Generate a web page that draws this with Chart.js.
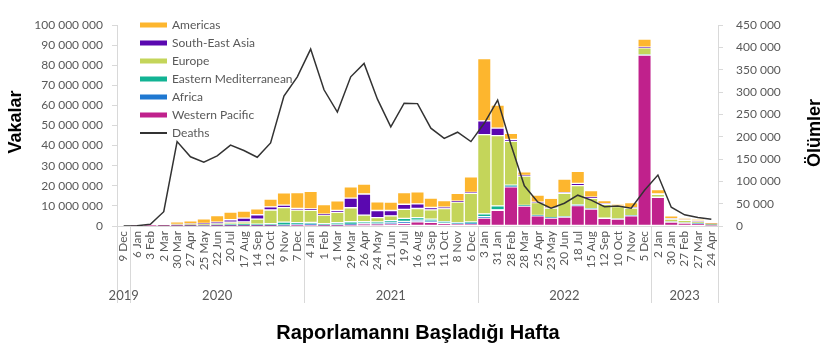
<!DOCTYPE html>
<html>
<head>
<meta charset="utf-8">
<script src="https://cdn.jsdelivr.net/npm/chart.js@4.4.1/dist/chart.umd.min.js"></script>
<style>
  body { margin: 0; background: #fff; }
</style>
</head>
<body>
<canvas id="chart" width="831" height="354"></canvas>
<script>
// 4-week reporting periods
const labels = ['9 Dec',
  '6 Jan','3 Feb','2 Mar','30 Mar','27 Apr','25 May','22 Jun','20 Jul','17 Aug','14 Sep','12 Oct','9 Nov','7 Dec',
  '4 Jan','1 Feb','1 Mar','29 Mar','26 Apr','24 May','21 Jun','19 Jul','16 Aug','13 Sep','11 Oct','8 Nov','6 Dec',
  '3 Jan','31 Jan','28 Feb','28 Mar','25 Apr','23 May','20 Jun','18 Jul','15 Aug','12 Sep','10 Oct','7 Nov','5 Dec',
  '2 Jan','30 Jan','27 Feb','27 Mar','24 Apr'];
const yearLabels = ['2019', '2020', '2021', '2022', '2023'];
const yearStarts = [0, 1, 14, 27, 40];

// cases, millions
const westernPacific = [0, 0.01, 0.07, 0.05, 0.05, 0.05, 0.04, 0.05, 0.1, 0.2, 0.15, 0.2, 0.25, 0.4,
  0.5, 0.3, 0.35, 0.6, 0.9, 0.8, 1.0, 1.3, 2.1, 1.8, 1.3, 1.0, 1.0,
  4.0, 7.8, 19.5, 9.9, 5.0, 4.0, 4.4, 10.2, 8.45, 3.8, 3.4, 5.0, 85,
  14.3, 1.9, 1.4, 1.1, 0.5];
const africa = [0, 0, 0, 0.01, 0.02, 0.03, 0.06, 0.2, 0.4, 0.25, 0.15, 0.15, 0.2, 0.3,
  0.4, 0.2, 0.15, 0.2, 0.2, 0.3, 0.9, 1.0, 0.8, 0.6, 0.3, 0.2, 0.6,
  0.6, 0.3, 0.2, 0.1, 0.2, 0.1, 0.1, 0.1, 0.05, 0.05, 0.05, 0.05, 0.05,
  0.05, 0.05, 0.05, 0.05, 0.02];
const easternMed = [0, 0, 0, 0.05, 0.1, 0.2, 0.3, 0.4, 0.5, 0.5, 0.6, 0.8, 1.5, 1.0,
  0.9, 0.7, 1.1, 1.3, 1.0, 0.9, 0.8, 1.5, 1.3, 1.0, 0.6, 0.4, 0.4,
  1.4, 1.9, 0.6, 0.3, 0.1, 0.1, 0.1, 0.2, 0.1, 0.05, 0.05, 0.05, 0.05,
  0.05, 0.05, 0.05, 0.05, 0.02];
const europe = [0, 0, 0, 0.15, 0.6, 0.6, 0.5, 0.5, 0.9, 1.1, 2.5, 6.8, 7.2, 6.2,
  6.0, 4.2, 5.2, 7.0, 3.3, 2.2, 2.3, 4.5, 4.5, 4.6, 6.5, 10.3, 14.2,
  39.5, 35, 21.8, 14.5, 6.3, 4.7, 11.6, 9.6, 5.2, 6.9, 6.2, 3.8, 3.6,
  1.3, 1.4, 1.3, 1.0, 0.3];
const southEastAsia = [0, 0, 0, 0.01, 0.05, 0.15, 0.4, 0.8, 1.2, 1.9, 2.2, 1.6, 1.2, 0.9,
  0.7, 0.5, 0.9, 4.8, 10.5, 3.5, 2.7, 2.5, 2.3, 1.2, 0.7, 0.5, 0.5,
  6.8, 3.7, 1.0, 0.4, 0.3, 0.2, 0.4, 1.1, 0.6, 0.3, 0.2, 0.2, 0.3,
  0.2, 0.2, 0.2, 0.3, 0.2];
const americas = [0, 0, 0, 0.05, 1.2, 1.5, 2.3, 3.2, 3.8, 3.5, 2.9, 3.8, 6.2, 7.8,
  8.8, 4.7, 4.8, 5.6, 4.9, 4.3, 4.2, 5.8, 6.0, 4.7, 3.3, 3.9, 7.8,
  31, 11.5, 3.0, 1.8, 3.5, 4.7, 6.8, 6.0, 3.2, 1.5, 1.0, 2.5, 4.0,
  2.2, 1.4, 1.0, 1.0, 0.3];

// deaths
const deaths = [0, 500, 4000, 32000, 189000, 155000, 143000, 157000, 181000, 169000, 154000, 186000, 291000, 334000,
  396000, 305000, 255000, 334000, 364000, 284000, 222000, 275000, 274000, 219000, 196000, 210000, 189000,
  230000, 282000, 182000, 90000, 54000, 40000, 51000, 69000, 58000, 43000, 45000, 40000, 80000,
  114000, 42000, 25000, 19000, 15000];

const gray = '#595959';
const axisLine = '#d9d9d9';

function spaced(v) {
  return Math.round(v).toString().replace(/\B(?=(\d{3})+(?!\d))/g, ' ');
}

function barSet(label, data, color) {
  return {
    type: 'bar', label: label, data: data, backgroundColor: color,
    borderColor: '#ffffff', borderWidth: 1, borderSkipped: false,
    barPercentage: 1, categoryPercentage: 1, yAxisID: 'y', order: 1
  };
}

const extras = {
  id: 'extras',
  afterDraw(chart) {
    const { ctx, chartArea, scales } = chart;
    const x = scales.x;
    ctx.save();

    // year separators + year labels
    const edges = [chartArea.left];
    for (let k = 1; k < yearStarts.length; k++) {
      const i = yearStarts[k];
      edges.push((x.getPixelForValue(i - 1) + x.getPixelForValue(i)) / 2);
    }
    edges.push(chartArea.right);
    ctx.strokeStyle = axisLine;
    ctx.lineWidth = 1;
    edges.forEach(px => {
      const p = Math.round(px) + 0.5;
      ctx.beginPath();
      ctx.moveTo(p, chartArea.bottom);
      ctx.lineTo(p, 303);
      ctx.stroke();
    });
    ctx.fillStyle = gray;
    ctx.font = '13px Lato';
    ctx.textAlign = 'center';
    ctx.textBaseline = 'middle';
    yearLabels.forEach((y, k) => ctx.fillText(y, (edges[k] + edges[k + 1]) / 2, 296));

    // axis titles
    ctx.fillStyle = '#000';
    ctx.font = 'bold 18px "Liberation Sans"';
    ctx.save();
    ctx.translate(16, 122);
    ctx.rotate(-Math.PI / 2);
    ctx.fillText('Vakalar', 0, 0);
    ctx.restore();
    ctx.save();
    ctx.translate(815, 133);
    ctx.rotate(-Math.PI / 2);
    ctx.fillText('Ölümler', 0, 0);
    ctx.restore();
    ctx.font = 'bold 20px "Liberation Sans"';
    ctx.fillText('Raporlamannı Başladığı Hafta', 418, 333);

    // legend
    const items = chart.data.datasets.slice().reverse();
    items.sort((a, b) => (a.type === 'line') - (b.type === 'line'));
    ctx.font = '12px Lato';
    ctx.textAlign = 'left';
    items.forEach((ds, k) => {
      const cy = 25 + k * 18;
      if (ds.type === 'line') {
        ctx.strokeStyle = ds.borderColor;
        ctx.lineWidth = 2;
        ctx.beginPath();
        ctx.moveTo(140, cy);
        ctx.lineTo(167, cy);
        ctx.stroke();
      } else {
        ctx.fillStyle = ds.backgroundColor;
        ctx.fillRect(140, cy - 2.5, 27, 5);
      }
      ctx.fillStyle = gray;
      ctx.fillText(ds.label, 172, cy + 0.5);
    });
    ctx.restore();
  }
};

new Chart(document.getElementById('chart'), {
  data: {
    labels: labels,
    datasets: [
      {
        type: 'line', label: 'Deaths', data: deaths, yAxisID: 'y1',
        borderColor: '#333333', borderWidth: 1.5, pointRadius: 0, tension: 0, order: 0
      },
      barSet('Western Pacific', westernPacific, '#c0218c'),
      barSet('Africa', africa, '#1f78d1'),
      barSet('Eastern Mediterranean', easternMed, '#12b394'),
      barSet('Europe', europe, '#c4d55a'),
      barSet('South-East Asia', southEastAsia, '#5a08b0'),
      barSet('Americas', americas, '#fdb62e')
    ]
  },
  options: {
    responsive: false,
    animation: false,
    devicePixelRatio: 1,
    layout: { padding: { top: 25, bottom: 0, left: 0, right: 0 } },
    plugins: { legend: { display: false }, tooltip: { enabled: false } },
    scales: {
      x: {
        stacked: true,
        grid: { display: false, drawTicks: false },
        border: { display: true, color: axisLine },
        ticks: {
          autoSkip: false, maxRotation: 90, minRotation: 90, padding: 5,
          color: gray, font: { family: 'Lato', size: 11.8 }
        },
        afterFit(s) { s.height = 128; }
      },
      y: {
        stacked: true, position: 'left', min: 0, max: 100,
        grid: { drawOnChartArea: false, drawTicks: true, tickLength: 5, color: axisLine },
        border: { display: true, color: axisLine },
        ticks: {
          stepSize: 10, padding: 9, color: gray, font: { family: 'Lato', size: 12 },
          callback: v => spaced(v * 1000000)
        },
        afterFit(s) { s.width = 117; }
      },
      y1: {
        position: 'right', min: 0, max: 450000,
        grid: { drawOnChartArea: false, drawTicks: true, tickLength: 5, color: axisLine },
        border: { display: true, color: axisLine },
        ticks: {
          stepSize: 50000, padding: 13, color: gray, font: { family: 'Lato', size: 12 },
          callback: v => spaced(v)
        },
        afterFit(s) { s.width = 113; }
      }
    }
  },
  plugins: [extras]
});
</script>
</body>
</html>
